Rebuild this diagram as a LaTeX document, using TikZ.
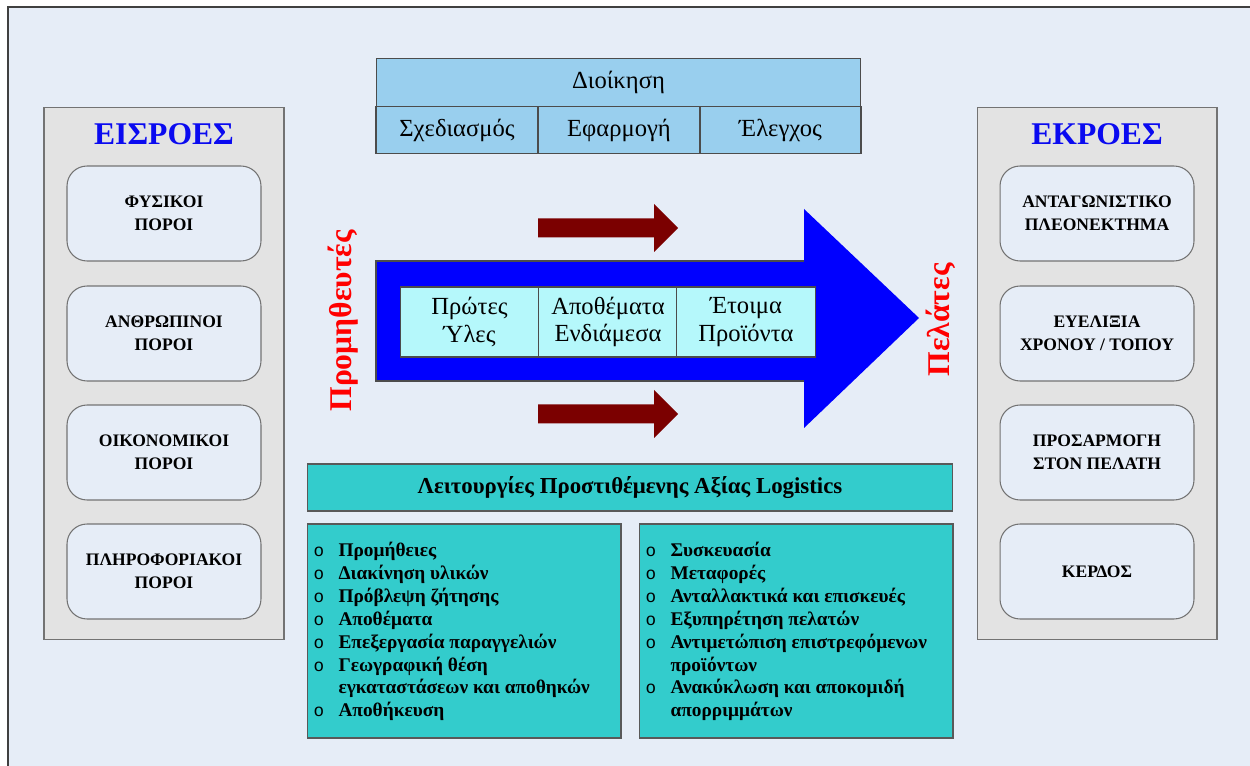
\documentclass[tikz,border=0pt]{standalone}
\usepackage{fontspec}
\setmainfont{Liberation Serif}
\newfontfamily\bulletfont{Liberation Mono}
\usepackage{tikz}

\definecolor{bgblue}{HTML}{E6EDF7}
\definecolor{panelgray}{HTML}{E3E3E3}
\definecolor{skyblue}{HTML}{99CFEE}
\definecolor{lightcyan}{HTML}{B5F8FB}
\definecolor{tealbox}{HTML}{33CCCC}
\definecolor{maroon}{HTML}{7B0000}
\definecolor{titleblue}{HTML}{0A0AF0}

\newcommand\li[1]{\makebox[5mm][l]{\bulletfont\mdseries\fontsize{10}{13}\selectfont o}#1}

\begin{document}
\begin{tikzpicture}[x=0.02cm, y=-0.02cm, line width=0.6pt,
    panel/.style ={draw=black!55, fill=panelgray, minimum width=48mm, minimum height=106.6mm},
    ptitle/.style ={text=titleblue, font=\fontsize{18}{20}\selectfont\bfseries},
    resbox/.style ={draw=black!55, fill=bgblue, rounded corners=4mm, minimum width=38.8mm,
      minimum height=19mm, align=center, font=\fontsize{10}{13}\selectfont\bfseries},
    mgmt/.style ={draw=black!70, fill=skyblue, minimum height=9.5mm, font=\fontsize{14}{16}\selectfont},
    stock/.style ={draw=black!70, fill=lightcyan, minimum width=27.7mm, minimum height=14mm,
      align=center, font=\fontsize{14}{15.5}\selectfont},
    vabox/.style ={draw=black!65, fill=tealbox},
    listtext/.style ={anchor=north west, inner sep=0pt, align=left, font=\fontsize{11}{13}\selectfont\bfseries},
    side/.style ={text=red, rotate=90, font=\fontsize{18}{20}\selectfont\bfseries}]
   \useasboundingbox (0,0) rectangle (1250,766);
   \fill[white] (0,0) rectangle (1250,766);
   \fill[bgblue] (8,7) rectangle (1250,766);
   \draw[black!75, line width=0.8pt] (8,766) -- (8,7) -- (1250,7);

   \node[panel] (inputs)  at (164,373.5)  {};
   \node[ptitle] (inputsT) at (164,134) {ΕΙΣΡΟΕΣ};
   \node[resbox] (physical) at (164,213.5) {ΦΥΣΙΚΟΙ\\ΠΟΡΟΙ};
   \node[resbox] (human) at (164,333.5) {ΑΝΘΡΩΠΙΝΟΙ\\ΠΟΡΟΙ};
   \node[resbox] (financial) at (164,452.5) {ΟΙΚΟΝΟΜΙΚΟΙ\\ΠΟΡΟΙ};
   \node[resbox] (info) at (164,571.5) {ΠΛΗΡΟΦΟΡΙΑΚΟΙ\\ΠΟΡΟΙ};

   \node[panel] (outputs)  at (1097,373.5)  {};
   \node[ptitle] (outputsT) at (1097,134) {ΕΚΡΟΕΣ};
   \node[resbox] (advantage) at (1097,213.5) {ΑΝΤΑΓΩΝΙΣΤΙΚΟ\\ΠΛΕΟΝΕΚΤΗΜΑ};
   \node[resbox] (flex) at (1097,333.5) {ΕΥΕΛΙΞΙΑ\\ΧΡΟΝΟΥ / ΤΟΠΟΥ};
   \node[resbox] (custom) at (1097,452.5) {ΠΡΟΣΑΡΜΟΓΗ\\ΣΤΟΝ ΠΕΛΑΤΗ};
   \node[resbox] (profit) at (1097,571.5) {ΚΕΡΔΟΣ};

   \node[mgmt, minimum width=97mm] (admin) at (618.5,82.5) {Διοίκηση};
   \node[mgmt, minimum width=32.4mm] (plan) at (457,130) {Σχεδιασμός};
   \node[mgmt, minimum width=32.4mm] (apply) at (619,130) {Εφαρμογή};
   \node[mgmt, minimum width=32.2mm] (control) at (780.5,130) {Έλεγχος};

   \foreach \y in {228,414}
     \fill[maroon] (538,\y-9.5) -- (654,\y-9.5) -- (654,\y-24) -- (678,\y)
       -- (654,\y+24) -- (654,\y+9.5) -- (538,\y+9.5) -- cycle;

   \filldraw[fill=blue, draw=black!70] (376,261) rectangle (805,381);
   \fill[blue] (804,209) -- (919,318) -- (804,428) -- cycle;
   \node[stock] (raw) at (469.5,322) {Πρώτες\\Ύλες};
   \node[stock] (wip) at (608,322) {Αποθέματα\\Ενδιάμεσα};
   \node[stock] (finished) at (746,322) {Έτοιμα\\Προϊόντα};

   \node[side] (suppliers) at (343,321) {Προμηθευτές};
   \node[side] (customers) at (941,320) {Πελάτες};

   \node[vabox, minimum width=129.2mm, minimum height=9.4mm,
     font=\fontsize{13}{15}\selectfont\bfseries] (valueT) at (630,487.5)
     {Λειτουργίες Προστιθέμενης Αξίας Logistics};
   \node[vabox, minimum width=62.8mm, minimum height=42.8mm] (valueL) at (464,631) {};
   \node[vabox, minimum width=62.8mm, minimum height=42.8mm] (valueR) at (796,631) {};

   \node[listtext] (listL) at (313,542) {\li{Προμήθειες}\\
     \li{Διακίνηση υλικών}\\
     \li{Πρόβλεψη ζήτησης}\\
     \li{Αποθέματα}\\
     \li{Επεξεργασία παραγγελιών}\\
     \li{Γεωγραφική θέση}\\
     \hspace*{5mm}εγκαταστάσεων και αποθηκών\\
     \li{Αποθήκευση}};
   \node[listtext] (listR) at (645,542) {\li{Συσκευασία}\\
     \li{Μεταφορές}\\
     \li{Ανταλλακτικά και επισκευές}\\
     \li{Εξυπηρέτηση πελατών}\\
     \li{Αντιμετώπιση επιστρεφόμενων}\\
     \hspace*{5mm}προϊόντων\\
     \li{Ανακύκλωση και αποκομιδή}\\
     \hspace*{5mm}απορριμμάτων};
 \end{tikzpicture}
\end{document}
